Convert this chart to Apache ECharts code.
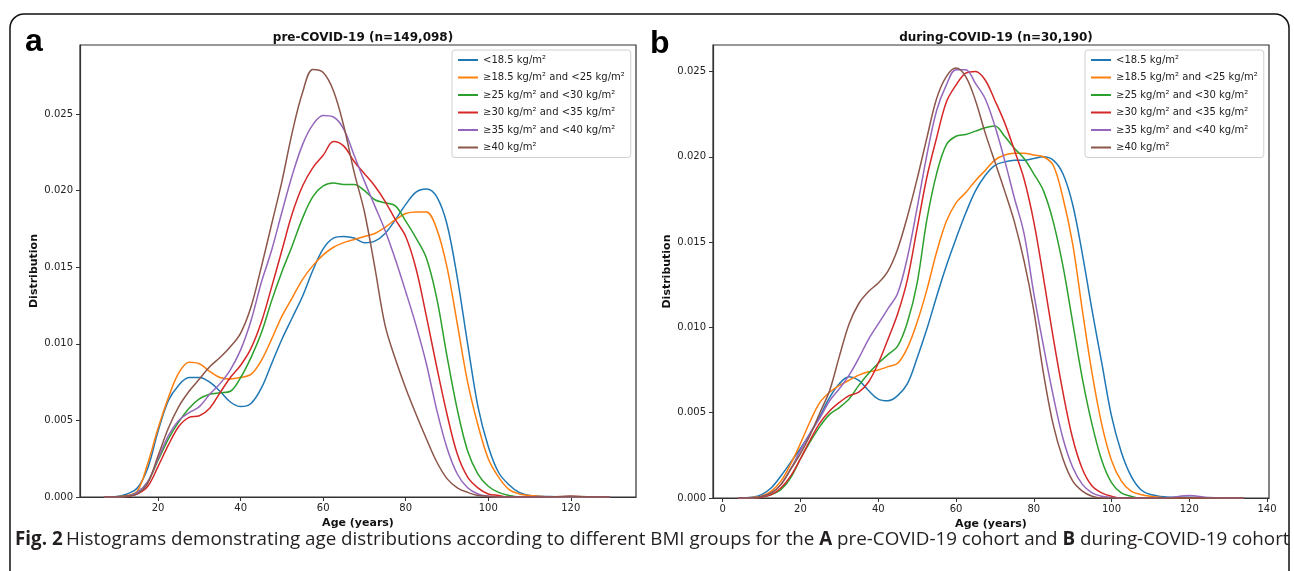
<!DOCTYPE html>
<html>
<head>
<meta charset="utf-8">
<script src="https://cdn.jsdelivr.net/npm/echarts@6/dist/echarts.min.js"></script>
<style>
  html, body { margin: 0; padding: 0; background: #fff; }
  #content { width: 1294px; height: 571px; }
</style>
</head>
<body>
<div id="content"></div>
<script>
var chart = echarts.init(document.getElementById('content'));

// BMI groups (legend labels)
var groups = ['<18.5 kg/m²', '≥18.5 kg/m² and <25 kg/m²', '≥25 kg/m² and <30 kg/m²',
  '≥30 kg/m² and <35 kg/m²', '≥35 kg/m² and <40 kg/m²', '≥40 kg/m²'];
var colors = ['#1f77b4', '#ff7f0e', '#2ca02c', '#d62728', '#9467bd', '#8c564b'];

var xTicksPre = [20, 40, 60, 80, 100, 120];
var xTicksDur = [0, 20, 40, 60, 80, 100, 120, 140];
var yTicks = [0, 0.005, 0.010, 0.015, 0.020, 0.025];

// pre-COVID-19 ages (years)
var agesPre = [7, 10, 12.5, 15, 17.5, 20, 22.5, 25, 27.5, 30, 32.5, 35, 37.5, 40, 42.5, 45, 47.5, 50,
  52.5, 55, 57.5, 60, 62.5, 65, 67.5, 70, 72.5, 75, 77.5, 80, 82.5, 85, 87.5, 90, 92.5, 95, 97.5,
  100, 102.5, 105, 107.5, 110, 115, 120, 125, 129.5];
var pre185 = [0, 0.00003, 0.0002, 0.0006, 0.0019, 0.0043, 0.0063, 0.0073, 0.0078, 0.0078, 0.0075, 0.0069, 0.0062, 0.0059, 0.0061, 0.0071, 0.0087, 0.0103,
  0.0117, 0.0131, 0.0148, 0.0162, 0.0169, 0.0170, 0.0169, 0.0166, 0.0167, 0.0172, 0.0181, 0.0191, 0.0199, 0.0201, 0.0196, 0.0178, 0.0143, 0.0100, 0.0059,
  0.0033, 0.0016, 0.0008, 0.0003, 0.0001, 0.00003, 0, 0, 0];
var pre185to25 = [0, 0.00002, 0.0001, 0.0004, 0.0022, 0.0045, 0.0065, 0.0081, 0.0088, 0.0087, 0.0082, 0.0078, 0.0077, 0.0078, 0.0080, 0.0089, 0.0103, 0.0118,
  0.0130, 0.0142, 0.0151, 0.0158, 0.0163, 0.0166, 0.0168, 0.0170, 0.0172, 0.0176, 0.0181, 0.0185, 0.0186, 0.0186, 0.0175, 0.0150, 0.0113, 0.0075, 0.0047,
  0.0025, 0.0013, 0.0005, 0.0002, 0.0001, 0, 0, 0, 0];
var pre25to30 = [0, 0, 0.00005, 0.0003, 0.0010, 0.0024, 0.0038, 0.0049, 0.0058, 0.0064, 0.0067, 0.0068, 0.0069, 0.0078, 0.0091, 0.0107, 0.0128, 0.0147,
  0.0164, 0.0182, 0.0196, 0.0203, 0.0205, 0.0204, 0.0204, 0.0200, 0.0194, 0.0192, 0.0190, 0.0180, 0.0169, 0.0156, 0.0130, 0.0092, 0.0057, 0.0030, 0.0015,
  0.0007, 0.0003, 0.0001, 0, 0, 0, 0, 0, 0];
var pre30to35 = [0, 0, 0.00003, 0.0002, 0.0007, 0.0020, 0.0034, 0.0046, 0.0052, 0.0053, 0.0058, 0.0068, 0.0078, 0.0086, 0.0097, 0.0114, 0.0137, 0.0161,
  0.0185, 0.0203, 0.0215, 0.0223, 0.0232, 0.0229, 0.0219, 0.0211, 0.0203, 0.0193, 0.0181, 0.0170, 0.0149, 0.0118, 0.0085, 0.0054, 0.0028, 0.0013, 0.0006,
  0.0002, 0.0001, 0, 0, 0, 0, 0.00004, 0, 0];
var pre35to40 = [0, 0, 0.00005, 0.0003, 0.0010, 0.0025, 0.0040, 0.0050, 0.0055, 0.0059, 0.0067, 0.0074, 0.0083, 0.0096, 0.0115, 0.0140, 0.0161, 0.0186,
  0.0210, 0.0230, 0.0243, 0.0249, 0.0248, 0.0240, 0.0223, 0.0206, 0.0190, 0.0174, 0.0155, 0.0134, 0.0112, 0.0087, 0.0057, 0.0032, 0.0015, 0.0006, 0.0002,
  0.00005, 0, 0, 0, 0, 0, 0, 0, 0];
var pre40 = [0, 0, 0.00005, 0.0002, 0.0009, 0.0027, 0.0045, 0.0059, 0.0069, 0.0077, 0.0085, 0.0091, 0.0098, 0.0107, 0.0124, 0.0150, 0.0178, 0.0206,
  0.0238, 0.0264, 0.0279, 0.0277, 0.0265, 0.0242, 0.0212, 0.0186, 0.0150, 0.0112, 0.0090, 0.0071, 0.0054, 0.0038, 0.0023, 0.0012, 0.0006, 0.0003, 0.0001,
  0.00005, 0, 0, 0, 0, 0, 0.00006, 0, 0];

// during-COVID-19 ages (years)
var agesDur = [4, 7.5, 10, 12.5, 15, 17.5, 20, 22.5, 25, 27.5, 30, 32.5, 35, 37.5, 40, 42.5, 45, 47.5, 50,
  52.5, 55, 57.5, 60, 62.5, 65, 67.5, 70, 72.5, 75, 77.5, 80, 82.5, 85, 87.5, 90, 92.5, 95, 97.5,
  100, 102.5, 105, 107.5, 110, 115, 120, 125, 134];
var dur185 = [0, 0.00005, 0.0002, 0.0006, 0.0013, 0.0021, 0.0029, 0.0038, 0.0048, 0.0059, 0.0067, 0.0071, 0.0069, 0.0063, 0.0058, 0.0057, 0.0060, 0.0067, 0.0082,
  0.0099, 0.0118, 0.0136, 0.0152, 0.0167, 0.0180, 0.0189, 0.0195, 0.0197, 0.0198, 0.0198, 0.0199, 0.0200, 0.0198, 0.0190, 0.0172, 0.0143, 0.0110, 0.0079,
  0.0048, 0.0027, 0.0013, 0.0005, 0.0002, 0.00005, 0.00005, 0, 0];
var dur185to25 = [0, 0.00003, 0.0001, 0.0004, 0.0010, 0.0020, 0.0032, 0.0045, 0.0056, 0.0062, 0.0066, 0.0069, 0.0072, 0.0074, 0.0075, 0.0077, 0.0079, 0.0088, 0.0103,
  0.0122, 0.0144, 0.0162, 0.0173, 0.0179, 0.0186, 0.0192, 0.0198, 0.0201, 0.0202, 0.0202, 0.0201, 0.0200, 0.0195, 0.0176, 0.0149, 0.0110, 0.0073, 0.0043,
  0.0022, 0.0010, 0.0004, 0.0002, 0.0001, 0, 0, 0, 0];
var dur25to30 = [0, 0, 0.00005, 0.0002, 0.0005, 0.0012, 0.0023, 0.0033, 0.0042, 0.0049, 0.0053, 0.0058, 0.0066, 0.0073, 0.0079, 0.0084, 0.0089, 0.0103, 0.0126,
  0.0163, 0.0190, 0.0207, 0.0212, 0.0213, 0.0215, 0.0217, 0.0218, 0.0212, 0.0205, 0.0199, 0.0190, 0.0180, 0.0162, 0.0136, 0.0103, 0.0070, 0.0043, 0.0022,
  0.0009, 0.0003, 0.0001, 0, 0, 0, 0, 0, 0];
var dur30to35 = [0, 0, 0.00005, 0.0002, 0.0006, 0.0013, 0.0023, 0.0034, 0.0044, 0.0051, 0.0056, 0.0060, 0.0062, 0.0068, 0.0079, 0.0093, 0.0108, 0.0128, 0.0158,
  0.0188, 0.0211, 0.0232, 0.0242, 0.0249, 0.0250, 0.0245, 0.0233, 0.0220, 0.0204, 0.0187, 0.0162, 0.0129, 0.0094, 0.0062, 0.0035, 0.0017, 0.0007, 0.0003,
  0.0001, 0, 0, 0, 0, 0, 0, 0, 0];
var dur35to40 = [0, 0, 0.00008, 0.0003, 0.0008, 0.0017, 0.0028, 0.0038, 0.0047, 0.0057, 0.0064, 0.0072, 0.0082, 0.0093, 0.0102, 0.0111, 0.0120, 0.0141, 0.0170,
  0.0201, 0.0227, 0.0242, 0.0251, 0.0251, 0.0243, 0.0234, 0.0218, 0.0198, 0.0176, 0.0155, 0.0120, 0.0089, 0.0060, 0.0035, 0.0018, 0.0008, 0.0003, 0.0001,
  0.00003, 0, 0, 0, 0, 0.00003, 0.00015, 0.00003, 0];
var dur40 = [0, 0, 0.0001, 0.0003, 0.0008, 0.0017, 0.0026, 0.0037, 0.0050, 0.0063, 0.0083, 0.0102, 0.0114, 0.0121, 0.0126, 0.0133, 0.0146, 0.0165, 0.0187,
  0.0211, 0.0234, 0.0247, 0.0252, 0.0247, 0.0233, 0.0214, 0.0197, 0.0180, 0.0162, 0.0139, 0.0110, 0.0073, 0.0043, 0.0023, 0.0010, 0.0004, 0.0001, 0,
  0, 0, 0, 0, 0, 0, 0, 0, 0];

var preSets = [pre185, pre185to25, pre25to30, pre30to35, pre35to40, pre40];
var durSets = [dur185, dur185to25, dur25to30, dur30to35, dur35to40, dur40];

function pairs(ages, vals) {
  return ages.map(function (a, i) { return [a, vals[i]]; });
}

var tickFont = { fontFamily: 'DejaVu Sans', fontSize: 10, color: '#222' };
var nameFont = { fontFamily: 'DejaVu Sans', fontSize: 11, fontWeight: 'bold', color: '#111' };

function xAxisFor(idx, min, max, ticks) {
  return {
    type: 'value', gridIndex: idx, min: min, max: max,
    name: 'Age (years)', nameLocation: 'middle', nameGap: 19, nameTextStyle: nameFont,
    splitLine: { show: false },
    axisLine: { show: true, onZero: false, lineStyle: { color: '#333', width: 1.2 } },
    axisTick: { show: true, length: 4, customValues: ticks, lineStyle: { color: '#333' } },
    axisLabel: Object.assign({ margin: 6, customValues: ticks }, tickFont)
  };
}

function yAxisFor(idx, max) {
  return {
    type: 'value', gridIndex: idx, min: 0, max: max,
    name: 'Distribution', nameLocation: 'middle', nameGap: 40, nameRotate: 90, nameTextStyle: nameFont,
    splitLine: { show: false },
    axisLine: { show: true, onZero: false, lineStyle: { color: '#333', width: 1.2 } },
    axisTick: { show: true, length: 4, customValues: yTicks, lineStyle: { color: '#333' } },
    axisLabel: Object.assign({
      margin: 7, customValues: yTicks,
      formatter: function (v) { return v.toFixed(3); }
    }, tickFont)
  };
}

function legendFor(left) {
  return {
    data: groups, orient: 'vertical', left: left, top: 50,
    icon: 'rect', itemWidth: 20, itemHeight: 2, itemGap: 5.5,
    padding: [4, 6, 4, 6],
    borderColor: '#d0d0d0', borderWidth: 1, borderRadius: 3,
    backgroundColor: 'rgba(255,255,255,0.8)',
    textStyle: { fontFamily: 'DejaVu Sans', fontSize: 10, color: '#222', lineHeight: 12 },
    selectedMode: false
  };
}

var series = [];
groups.forEach(function (g, i) {
  series.push({
    name: g, type: 'line', xAxisIndex: 0, yAxisIndex: 0, data: pairs(agesPre, preSets[i]),
    smooth: 0.35, showSymbol: false, symbol: 'none', color: colors[i],
    lineStyle: { width: 1.5 }, z: 2 + i
  });
});
groups.forEach(function (g, i) {
  series.push({
    name: g, type: 'line', xAxisIndex: 1, yAxisIndex: 1, data: pairs(agesDur, durSets[i]),
    smooth: 0.35, showSymbol: false, symbol: 'none', color: colors[i],
    lineStyle: { width: 1.5 }, z: 2 + i
  });
});

var option = {
  backgroundColor: '#fff',
  animation: false,
  title: [
    { text: 'pre-COVID-19 (n=149,098)', left: 358, top: 27, textAlign: 'center',
      textStyle: { fontFamily: 'DejaVu Sans', fontSize: 12, fontWeight: 'bold', color: '#111' } },
    { text: 'during-COVID-19 (n=30,190)', left: 991, top: 27, textAlign: 'center',
      textStyle: { fontFamily: 'DejaVu Sans', fontSize: 12, fontWeight: 'bold', color: '#111' } }
  ],
  legend: [legendFor(452), legendFor(1085)],
  grid: [
    { left: 80, top: 45, width: 556, height: 452, show: true, borderColor: '#333', borderWidth: 1.2, containLabel: false },
    { left: 713, top: 45, width: 556, height: 453, show: true, borderColor: '#333', borderWidth: 1.2, containLabel: false }
  ],
  xAxis: [xAxisFor(0, 1.07, 135.8, xTicksPre), xAxisFor(1, -2.5, 140.5, xTicksDur)],
  yAxis: [yAxisFor(0, 0.0295), yAxisFor(1, 0.02655)],
  series: series,
  graphic: [
    { type: 'rect', shape: { x: 10, y: 14, width: 1279, height: 640, r: 14 },
      style: { fill: 'none', stroke: '#111', lineWidth: 1.5 }, silent: true },
    { type: 'text', left: 25, top: 26,
      style: { text: 'a', font: 'bold 32px "Liberation Sans"', fill: '#000' } },
    { type: 'text', left: 650, top: 28,
      style: { text: 'b', font: 'bold 32px "Liberation Sans"', fill: '#000' } },
    { type: 'text', left: 15, top: 530,
      style: {
        text: '{b|Fig. 2} {n|Histograms demonstrating age distributions according to different BMI groups for the }{b|A}{n| pre-COVID-19 cohort and }{b|B}{n| during-COVID-19 cohort}',
        rich: {
          b: { fontFamily: 'Open Sans', fontSize: 18.8, fontWeight: 'bold', fill: '#231f20' },
          n: { fontFamily: 'Open Sans', fontSize: 18.8, fontWeight: 'normal', fill: '#231f20' }
        }
      } }
  ]
};

chart.setOption(option);
</script>
</body>
</html>
